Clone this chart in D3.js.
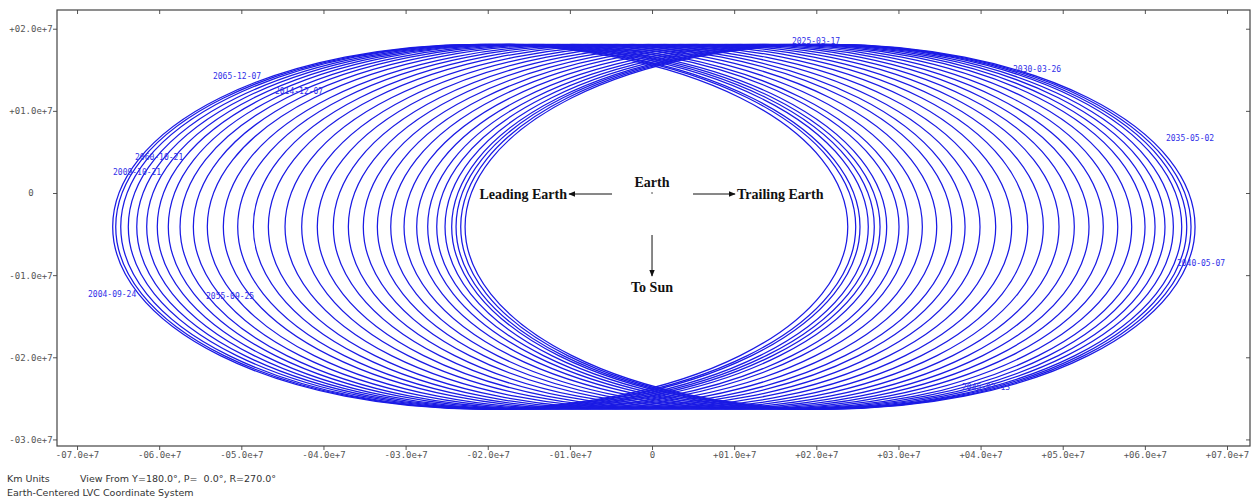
<!DOCTYPE html>
<html>
<head>
<meta charset="utf-8">
<script src="https://cdn.jsdelivr.net/npm/d3@7"></script>
<style>
  body { margin: 0; background: #fff; }
  svg { display: block; }
</style>
</head>
<body>
<svg id="chart" width="1254" height="500"></svg>
<script>
// All distances in units of 1e7 km, Earth-centered LVC frame.
// Along-track (horizontal) and radial (vertical) axis ticks.
const xTickValues = [-7, -6, -5, -4, -3, -2, -1, 0, 1, 2, 3, 4, 5, 6, 7];
const yTickValues = [-3, -2, -1, 0, 1, 2];

// Annual loops of the trajectory: along-track extent on the leading side
// (loopLeading) and on the trailing side (loopTrailing), one entry per loop.
const loopLeading = [
  -6.566, -6.529, -6.468, -6.376, -6.273, -6.152, -6.023, -5.889,
  -5.746, -5.584, -5.414, -5.219, -5.044, -4.854, -4.671, -4.468,
  -4.265, -4.075, -3.880, -3.697, -3.515, -3.344, -3.181, -3.019,
  -2.865, -2.731, -2.621, -2.520, -2.439, -2.386, -2.329, -2.276
];
const loopTrailing = [
  2.383, 2.480, 2.532, 2.633, 2.706, 2.776, 2.857, 3.007,
  3.120, 3.291, 3.466, 3.649, 3.811, 3.993, 4.184, 4.379,
  4.574, 4.764, 4.955, 5.141, 5.320, 5.494, 5.670, 5.840,
  6.002, 6.124, 6.245, 6.347, 6.449, 6.510, 6.562, 6.611
];
// Radial extent of the loops (away from Sun is positive).
const loopRadialMax = [1.81];
const loopRadialMin = [-2.63];

// Dated epochs along the trajectory (label placement in the same units).
const epochDates = [
  "2065-12-07", "2014-12-07", "2060-10-21", "2009-10-21", "2004-09-24",
  "2055-09-25", "2025-03-17", "2030-03-26", "2035-05-02", "2040-05-07",
  "2045-07-13"
];
const epochX = [-5.345, -4.590, -6.294, -6.562, -6.866, -5.430, 1.704, 4.395, 6.257, 6.391, 3.774];
const epochY = [1.388, 1.205, 0.402, 0.219, -1.266, -1.290, 1.814, 1.473, 0.633, -0.889, -2.398];

const footerLines = [
  ["Km Units", "View From Y=180.0\u00b0, P=  0.0\u00b0, R=270.0\u00b0"],
  ["Earth-Centered LVC Coordinate System"]
];

const svg = d3.select("#chart");
const frame = { left: 57, right: 1250, top: 10, bottom: 446 };

const x = d3.scaleLinear().domain([-7.244, 7.280]).range([frame.left, frame.right]);
const y = d3.scaleLinear().domain([-3.080, 2.228]).range([frame.bottom, frame.top]);

const fmt = v => v === 0 ? "0" :
  (v < 0 ? "-" : "+") + String(Math.abs(v)).padStart(2, "0") + ".0e+7";

const monoFont = "'DejaVu Sans Mono', 'Liberation Mono', monospace";

// Arrowhead marker
svg.append("defs").append("marker")
  .attr("id", "arrow")
  .attr("viewBox", "0 0 10 10")
  .attr("refX", 9).attr("refY", 5)
  .attr("markerWidth", 7).attr("markerHeight", 7)
  .attr("markerUnits", "userSpaceOnUse")
  .attr("orient", "auto")
  .append("path").attr("d", "M0,1 L10,5 L0,9 Z").attr("fill", "#111");

// Trajectory loops
const loops = loopLeading.map((l, i) => ({ lead: l, trail: loopTrailing[i] }));
const cyVal = (loopRadialMax[0] + loopRadialMin[0]) / 2;
svg.append("g")
  .attr("fill", "none")
  .attr("stroke", "#1a1ae4")
  .attr("stroke-width", 1.25)
  .selectAll("ellipse")
  .data(loops)
  .join("ellipse")
  .attr("cx", d => x((d.lead + d.trail) / 2))
  .attr("cy", y(cyVal))
  .attr("rx", d => (x(d.trail) - x(d.lead)) / 2)
  .attr("ry", (y(loopRadialMin[0]) - y(loopRadialMax[0])) / 2);

// Axes
const axisStyle = g => {
  g.select(".domain").remove();
  g.selectAll(".tick line").attr("stroke", "#555");
  g.selectAll(".tick text")
    .attr("fill", "#555")
    .style("font-family", monoFont)
    .style("font-size", "9px");
};

svg.append("g")
  .attr("transform", `translate(0,${frame.bottom})`)
  .call(d3.axisBottom(x).tickValues(xTickValues).tickFormat(fmt).tickSize(4).tickPadding(2))
  .call(axisStyle);

svg.append("g")
  .attr("transform", `translate(0,${frame.top})`)
  .call(d3.axisTop(x).tickValues(xTickValues).tickFormat("").tickSize(-4))
  .call(axisStyle);

svg.append("g")
  .attr("transform", `translate(${frame.left},0)`)
  .call(d3.axisLeft(y).tickValues(yTickValues).tickFormat(fmt).tickSize(4))
  .call(axisStyle)
  .call(g => g.selectAll(".tick text")
    .attr("text-anchor", "middle")
    .attr("x", -(frame.left - 31)));

svg.append("g")
  .attr("transform", `translate(${frame.right},0)`)
  .call(d3.axisRight(y).tickValues(yTickValues).tickFormat("").tickSize(-4))
  .call(axisStyle);

// Plot frame
svg.append("rect")
  .attr("x", frame.left).attr("y", frame.top)
  .attr("width", frame.right - frame.left)
  .attr("height", frame.bottom - frame.top)
  .attr("fill", "none")
  .attr("stroke", "#444")
  .attr("stroke-width", 1.2);

// Epoch labels
svg.append("g")
  .selectAll("text")
  .data(epochDates)
  .join("text")
  .attr("x", (d, i) => x(epochX[i]))
  .attr("y", (d, i) => y(epochY[i]))
  .attr("fill", "#3030e8")
  .style("font-family", monoFont)
  .style("font-size", "8px")
  .text(d => d);

// Earth-centred direction annotations
const ex = x(0), ey = y(0);
const serifBold = g => g.style("font-family", "'Liberation Serif', 'Times New Roman', serif")
  .style("font-weight", "bold").style("font-size", "14px").attr("fill", "#111");

svg.append("circle").attr("cx", ex).attr("cy", ey).attr("r", 0.8).attr("fill", "#333");
svg.append("text").attr("x", ex).attr("y", ey - 6).attr("text-anchor", "middle")
  .call(serifBold).text("Earth");

svg.append("line").attr("x1", ex - 40).attr("y1", ey + 1).attr("x2", ex - 83).attr("y2", ey + 1)
  .attr("stroke", "#111").attr("stroke-width", 1).attr("marker-end", "url(#arrow)");
svg.append("text").attr("x", ex - 85).attr("y", ey + 6).attr("text-anchor", "end")
  .call(serifBold).text("Leading Earth");

svg.append("line").attr("x1", ex + 41).attr("y1", ey + 1).attr("x2", ex + 83).attr("y2", ey + 1)
  .attr("stroke", "#111").attr("stroke-width", 1).attr("marker-end", "url(#arrow)");
svg.append("text").attr("x", ex + 85).attr("y", ey + 6).attr("text-anchor", "start")
  .call(serifBold).text("Trailing Earth");

svg.append("line").attr("x1", ex).attr("y1", ey + 42).attr("x2", ex).attr("y2", ey + 83)
  .attr("stroke", "#111").attr("stroke-width", 1).attr("marker-end", "url(#arrow)");
svg.append("text").attr("x", ex).attr("y", ey + 99).attr("text-anchor", "middle")
  .call(serifBold).text("To Sun");

// Footer
const footer = svg.append("g")
  .attr("fill", "#333")
  .style("font-family", "'DejaVu Sans', Verdana, sans-serif")
  .style("font-size", "9.5px");
footer.append("text").attr("x", 7).attr("y", 482).text(footerLines[0][0]);
footer.append("text").attr("x", 80).attr("y", 482).attr("xml:space", "preserve")
  .style("white-space", "pre").text(footerLines[0][1]);
footer.append("text").attr("x", 7).attr("y", 496).text(footerLines[1][0]);
</script>
</body>
</html>
